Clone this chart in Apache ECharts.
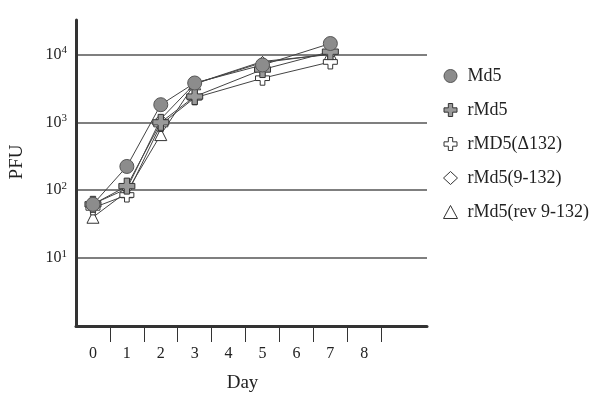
<!DOCTYPE html>
<html>
<head>
<meta charset="utf-8">
<script src="https://cdn.jsdelivr.net/npm/echarts@6/dist/echarts.min.js"></script>
<style>html,body{margin:0;padding:0;background:#fff}#c{width:598px;height:398px}</style>
</head>
<body>
<div id="c"></div>
<script>
const seriesNames = ['Md5', 'rMd5', 'rMD5(\u0394132)', 'rMd5(9-132)', 'rMd5(rev 9-132)'];
const days = [0, 1, 2, 3, 5, 7];
const md5 = [62, 224, 1820, 3800, 7000, 14500];
const rmd5 = [62, 115, 1000, 2400, 6000, 11000];
const rmd5d132 = [55, 85, 930, 2300, 4470, 7760];
const rmd5_9_132 = [63, 105, 1120, 3700, 7900, 10000];
const rmd5rev = [40, 95, 660, 3700, 7600, 10200];
const xLabels = [0, 1, 2, 3, 4, 5, 6, 7, 8];
const xTicks = [0.5, 1.5, 2.5, 3.5, 4.5, 5.5, 6.5, 7.5, 8.5];

const FONT = '"Liberation Serif", "Times New Roman", serif';
const crossPath = 'path://M4,0 L8,0 L8,4 L12,4 L12,8 L8,8 L8,12 L4,12 L4,8 L0,8 L0,4 L4,4 Z';
const styles = [
  {symbol: 'circle', size: 14, fill: '#8c8c8c', border: '#555'},
  {symbol: crossPath, size: 16, fill: '#9a9a9a', border: '#333'},
  {symbol: crossPath, size: 14, fill: '#ffffff', border: '#333'},
  {symbol: 'diamond', size: 10, fill: '#ffffff', border: '#333'},
  {symbol: 'triangle', size: 12, fill: '#ffffff', border: '#333'}
];
const allData = [md5, rmd5, rmd5d132, rmd5_9_132, rmd5rev];

const chart = echarts.init(document.getElementById('c'), null, {renderer: 'canvas'});
const series = allData.map((vals, i) => ({
  name: seriesNames[i],
  type: 'line',
  data: days.map((d, j) => [d, vals[j]]),
  symbol: styles[i].symbol,
  symbolSize: styles[i].size,
  showAllSymbol: true,
  z: 10 - i,
  lineStyle: {color: '#444', width: 1},
  itemStyle: {color: styles[i].fill, borderColor: styles[i].border, borderWidth: 1},
  emphasis: {disabled: true},
  animation: false
}));

chart.setOption({
  backgroundColor: '#fff',
  animation: false,
  grid: {left: 75, right: 171, top: 20, bottom: 71, containLabel: false},
  legend: {
    orient: 'vertical',
    left: 438,
    top: 62,
    itemGap: 16,
    itemWidth: 14,
    itemHeight: 13,
    textStyle: {fontFamily: FONT, fontSize: 18, color: '#222', padding: [0, 0, 0, 5]},
    data: seriesNames.map((n, i) => ({
      name: n,
      icon: styles[i].symbol,
      itemStyle: {color: styles[i].fill, borderColor: styles[i].border, borderWidth: 1}
    }))
  },
  xAxis: {
    type: 'value',
    min: -0.5,
    max: 9.85,
    name: 'Day',
    nameLocation: 'middle',
    nameGap: 48,
    nameTextStyle: {fontFamily: FONT, fontSize: 19, color: '#222', padding: [0, 18, 0, 0]},
    axisLine: {show: true, onZero: false, lineStyle: {color: '#333', width: 3}},
    axisTick: {show: true, customValues: xTicks, length: 16, lineStyle: {color: '#333', width: 1}},
    axisLabel: {customValues: xLabels, margin: 20, fontFamily: FONT, fontSize: 16, color: '#222'},
    splitLine: {show: false}
  },
  yAxis: {
    type: 'log',
    logBase: 10,
    min: 1,
    max: 32200,
    name: 'PFU',
    nameLocation: 'middle',
    nameGap: 49,
    nameTextStyle: {fontFamily: FONT, fontSize: 19, color: '#222', padding: [0, 0, 0, 22]},
    axisLine: {show: true, onZero: false, lineStyle: {color: '#333', width: 3}},
    axisTick: {show: false},
    axisLabel: {
      margin: 9,
      fontFamily: FONT,
      fontSize: 16,
      color: '#222',
      formatter: function (v) {
        const e = Math.log10(v);
        const r = Math.round(e);
        if (Math.abs(e - r) > 1e-6 || r < 1) return '';
        return '10{s|' + r + '}';
      },
      rich: {s: {fontFamily: FONT, fontSize: 11, color: '#222', verticalAlign: 'top', padding: [0, 0, 8, 0]}}
    },
    splitLine: {show: true, showMinLine: false, showMaxLine: false, lineStyle: {color: '#555', width: 1.5}}
  },
  series: series
});
</script>
</body>
</html>
